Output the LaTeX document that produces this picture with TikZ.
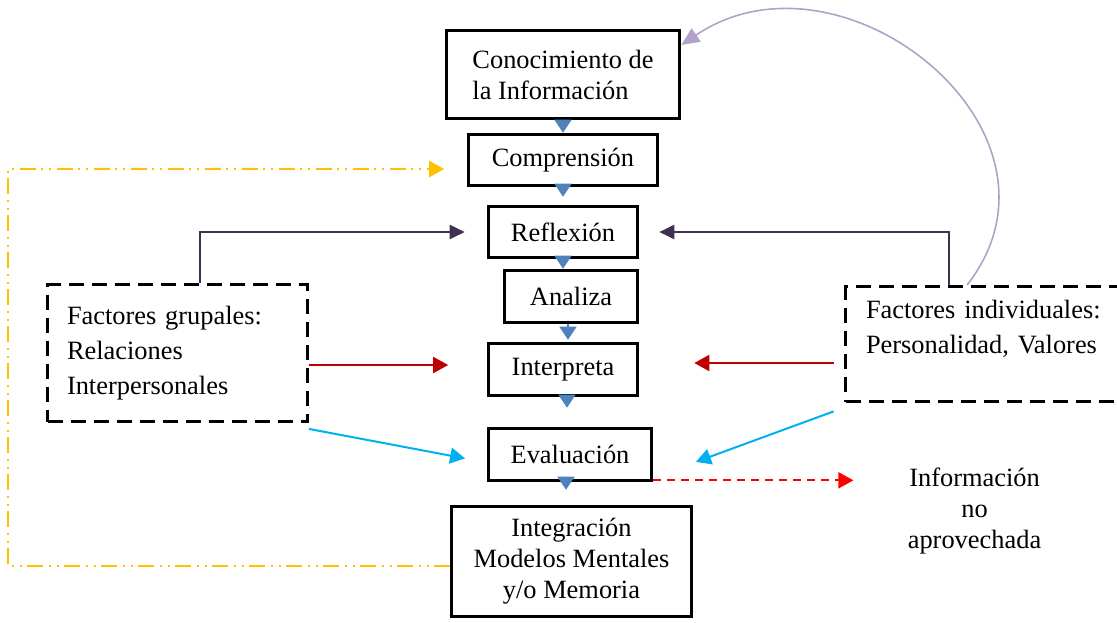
\documentclass[tikz,border=0pt]{standalone}
\usepackage{fontspec}
\setmainfont{Liberation Serif}
\usetikzlibrary{arrows.meta}
\definecolor{flowblue}{HTML}{4F81BD}
\definecolor{plum}{HTML}{403152}
\definecolor{lilac}{HTML}{B3A2C7}
\definecolor{darkred}{HTML}{C00000}
\definecolor{skyblue}{HTML}{00B0F0}
\definecolor{gold}{HTML}{FFC000}
\begin{document}
\begin{tikzpicture}[x=0.5pt,y=-0.5pt,
  every node/.style={font=\fontsize{13.2pt}{15.5pt}\selectfont},
  procbox/.style={draw,line width=1.8pt,inner sep=0pt,align=center},
  factorbox/.style={draw,line width=1.4pt,dash pattern=on 7.5pt off 4pt,align=left,
    inner ysep=0pt,font=\fontsize{13.2pt}{17.5pt}\selectfont},
  flowarrow/.style={flowblue,line width=0.6pt,-{Triangle[length=6.5pt,width=8.5pt]}},
  plumarrow/.style={plum,line width=1pt,-{Triangle[length=7.5pt,width=7pt]}},
  lilacarrow/.style={lilac,line width=0.8pt,-{Triangle[length=9pt,width=8pt]}},
  redarrow/.style={darkred,line width=1pt,-{Triangle[length=7.5pt,width=8pt]}},
  skyarrow/.style={skyblue,line width=1pt,-{Triangle[length=7.5pt,width=8pt]}},
  lostarrow/.style={red,line width=1pt,dash pattern=on 4pt off 3pt,-{Triangle[length=7.5pt,width=8pt]}},
  goldline/.style={gold,line width=1.1pt,dash pattern=on 8pt off 2.5pt on 1pt off 3pt on 1pt off 3pt,
    -{Triangle[length=7.5pt,width=8pt]}}]
  \useasboundingbox (0,0) rectangle (1117,622);
  \clip (0,0) rectangle (1117,622);

  % main chain
  \node (con) [procbox,align=left,minimum width=116.5pt,minimum height=44pt] at (563,74.5)
    {Conocimiento de\\la Información};
  \node (comp) [procbox,minimum width=94.5pt,minimum height=25.5pt] at (563,160) {Comprensión};
  \node (ref) [procbox,minimum width=74.5pt,minimum height=25.5pt] at (563,232) {Reflexión};
  \node (ana) [procbox,minimum width=66.5pt,minimum height=26pt] at (571,296.5) {Analiza};
  \node (interp) [procbox,minimum width=74.5pt,minimum height=26pt] at (563,369.5) {Interpreta};
  \node (eval) [procbox,minimum width=81.5pt,minimum height=26pt] at (570,454.5) {Evaluación};
  \node (integ) [procbox,minimum width=120pt,minimum height=55pt] at (571.5,561.5)
    {Integración\\Modelos Mentales\\y/o Memoria};

  % factors
  \node (grp) [factorbox,inner xsep=9.75pt,text width=110.5pt,minimum height=68.5pt] at (177.5,353)
    {Factores grupales:\\Relaciones\\Interpersonales};
  \node (indiv) [factorbox,inner xsep=10.25pt,text width=129.5pt,minimum height=57.5pt] at (995.5,344)
    {Factores individuales:\\Personalidad, Valores\\\mbox{}};
  \node (lost) [inner sep=0pt,align=center] at (974.5,511.5) {Información\\no\\aprovechada};
  \coordinate (bend) at (8,169);

  % flow between steps
  \draw[flowarrow] (con.south) -- (con.south |- comp.north);
  \draw[flowarrow,shorten >=4pt] (comp.south) -- (comp.south |- ref.north);
  \draw[flowarrow] (ref.south) -- (ref.south |- ana.north);
  \draw[flowarrow,shorten >=1pt] ([xshift=-1.5pt]ana.south) -- ([xshift=-1.5pt]ana.south |- interp.north);
  \draw[flowarrow,shorten >=9.5pt] ([xshift=2pt]interp.south) -- ([xshift=2pt]interp.south |- eval.north);
  \draw[flowarrow,shorten >=7.5pt] ([xshift=-2pt]eval.south) -- ([xshift=-2pt]eval.south |- integ.north);

  % influences
  \draw[plumarrow,shorten >=11pt] ([xshift=11.25pt]grp.north) |- (ref.west);
  \draw[plumarrow,shorten >=10pt] ([xshift=-23.25pt]indiv.north) |- (ref.east);
  \draw[lilacarrow] ([xshift=-14.25pt]indiv.north) to[out=52,in=34,looseness=1.33] ([yshift=14.75pt]con.east);
  \draw[redarrow,shorten >=19.25pt] ([yshift=-6pt]grp.east) -- ([yshift=-6pt]grp.east -| interp.west);
  \draw[redarrow,shorten <=5.25pt,shorten >=27.5pt] ([yshift=-9.5pt]indiv.west) -- ([yshift=-9.5pt]indiv.west -| interp.east);
  \draw[skyarrow,shorten >=11pt] ([yshift=-3pt]grp.south east) -- ([yshift=-4pt]eval.west);
  \draw[skyarrow,shorten >=22.7pt] ([xshift=-5.25pt,yshift=-4.25pt]indiv.south west) -- ([yshift=-11.5pt]eval.east);
  \draw[lostarrow,shorten >=27pt] ([yshift=1pt]eval.south east) -- ([yshift=1pt]eval.south east -| lost.west);
  \draw[goldline,shorten >=11.25pt] ([yshift=-2.25pt]integ.west) -| (bend) -- (bend -| comp.west);
\end{tikzpicture}
\end{document}
